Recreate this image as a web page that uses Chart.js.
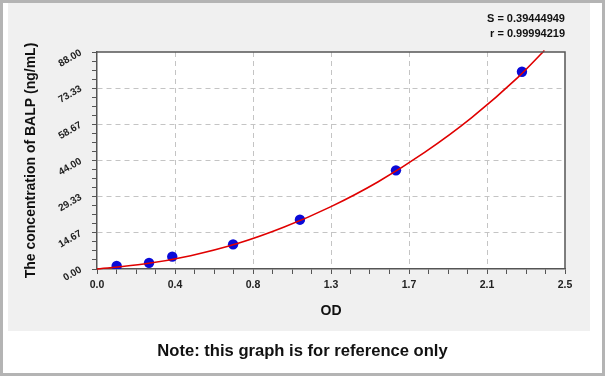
<!DOCTYPE html>
<html><head><meta charset="utf-8">
<script src="https://cdn.jsdelivr.net/npm/chart.js@4"></script>
<style>
html,body{margin:0;padding:0;background:#fff;}
#wrap{position:relative;width:605px;height:376px;overflow:hidden;background:#fff;}
#frame{position:absolute;left:0;top:0;width:605px;height:376px;box-sizing:border-box;border:3px solid #b4b4b4;}
#panel{position:absolute;left:8px;top:3px;width:582px;height:328px;background:#f0f0f0;}
#c{position:absolute;left:0;top:0;}
.stat{position:absolute;right:40px;font:bold 11px "Liberation Sans",Arial,sans-serif;color:#111;}
#note{position:absolute;left:0;width:605px;top:341px;text-align:center;font:bold 16.6px "Liberation Sans",Arial,sans-serif;color:#111;}
</style></head>
<body><div id="wrap"><div id="frame"></div><div id="panel"></div>
<canvas id="c" width="605" height="376"></canvas>
<div class="stat" style="top:12px">S = 0.39444949</div>
<div class="stat" style="top:27px">r = 0.99994219</div>
<div id="note">Note: this graph is for reference only</div>
</div>
<script>
// Standard points (OD, concentration)
const odValues = [0.105, 0.278, 0.402, 0.727, 1.084, 1.597, 2.270];
const concValues = [1.25, 2.5, 5, 10, 20, 40, 80];
// Fitted curve
const curveOD = [0, 0.25, 0.5, 0.75, 1.0, 1.25, 1.5, 1.75, 2.0, 2.25, 2.39];
const curveConc = [0, 2.0, 5.4, 10.3, 17.0, 25.3, 35.3, 47.3, 61.3, 77.8, 88.6];
// Tick labels
const xTickLabels = ['0.0','0.4','0.8','1.3','1.7','2.1','2.5'];
const yTickLabels = ['0.00','14.67','29.33','44.00','58.67','73.33','88.00'];
const xMax = 2.5, yMax = 88, minorPerMajor = 4;

const FONT = '"Liberation Sans", Arial, sans-serif';

function buildTicks(max, labels) {
  const n = (labels.length - 1) * minorPerMajor;
  return scale => {
    scale.ticks = [];
    for (let i = 0; i <= n; i++) scale.ticks.push({ value: max * i / n });
  };
}
function gridColor(ctx) {
  const i = ctx.index;
  const n = 6 * minorPerMajor;
  return (i % minorPerMajor === 0 && i !== 0 && i !== n) ? '#c4c4c4' : 'rgba(0,0,0,0)';
}

const framePlugin = {
  id: 'frame',
  beforeDraw(chart) {
    const a = chart.chartArea, c = chart.ctx;
    c.save(); c.fillStyle = '#ffffff';
    c.fillRect(a.left, a.top, a.right - a.left, a.bottom - a.top);
    c.restore();
  },
  afterDraw(chart) {
    const a = chart.chartArea, c = chart.ctx;
    c.save(); c.strokeStyle = '#555'; c.lineWidth = 1.5;
    c.beginPath();
    c.moveTo(a.left, a.top); c.lineTo(a.right, a.top); c.lineTo(a.right, a.bottom);
    c.stroke(); c.restore();
  }
};

new Chart(document.getElementById('c'), {
  type: 'scatter',
  data: {
    datasets: [
      {
        data: curveOD.map((x, i) => ({ x, y: curveConc[i] })),
        showLine: true, borderColor: '#e00000', borderWidth: 1.6,
        pointRadius: 0, cubicInterpolationMode: 'monotone', clip: 4, fill: false
      },
      {
        data: odValues.map((x, i) => ({ x, y: concValues[i] })),
        showLine: false, pointRadius: 5.2, pointBackgroundColor: '#0a0ad8',
        pointBorderColor: '#0a0ad8', pointBorderWidth: 0
      }
    ]
  },
  options: {
    responsive: false, animation: false, devicePixelRatio: 1,
    layout: { padding: { left: 0, top: 52, right: 40, bottom: 0 } },
    plugins: { legend: { display: false }, tooltip: { enabled: false } },
    scales: {
      x: {
        type: 'linear', min: 0, max: xMax,
        afterBuildTicks: buildTicks(xMax, xTickLabels),
        afterFit: s => { s.height = 107; },
        ticks: {
          autoSkip: false, maxRotation: 0, minRotation: 0, padding: 5,
          color: '#222', font: { family: FONT, size: 10.5, weight: 'bold' },
          callback: (v, i) => i % minorPerMajor === 0 ? xTickLabels[i / minorPerMajor] : ''
        },
        grid: { color: gridColor, tickColor: '#555', tickLength: 5, lineWidth: 1 },
        border: { display: true, color: '#555', width: 1.5, dash: [5, 4] },
        title: { display: true, text: 'OD', color: '#111',
          font: { family: FONT, size: 14, weight: 'bold' }, padding: { top: 0, bottom: 56 } }
      },
      y: {
        type: 'linear', min: 0, max: yMax,
        afterBuildTicks: buildTicks(yMax, yTickLabels),
        afterFit: s => { s.width = 97; },
        ticks: {
          autoSkip: false, minRotation: 30, maxRotation: 30, padding: 11,
          color: '#222', font: { family: FONT, size: 10, weight: 'bold' },
          callback: (v, i) => i % minorPerMajor === 0 ? yTickLabels[i / minorPerMajor] : ''
        },
        grid: { color: gridColor, tickColor: '#555', tickLength: 5, lineWidth: 1 },
        border: { display: true, color: '#555', width: 1.5, dash: [5, 4] },
        title: { display: true, text: 'The concentration of BALP (ng/mL)', color: '#111',
          font: { family: FONT, size: 14, weight: 'bold' }, padding: { top: 23, bottom: 0 } }
      }
    }
  },
  plugins: [framePlugin]
});
</script>
</body></html>
